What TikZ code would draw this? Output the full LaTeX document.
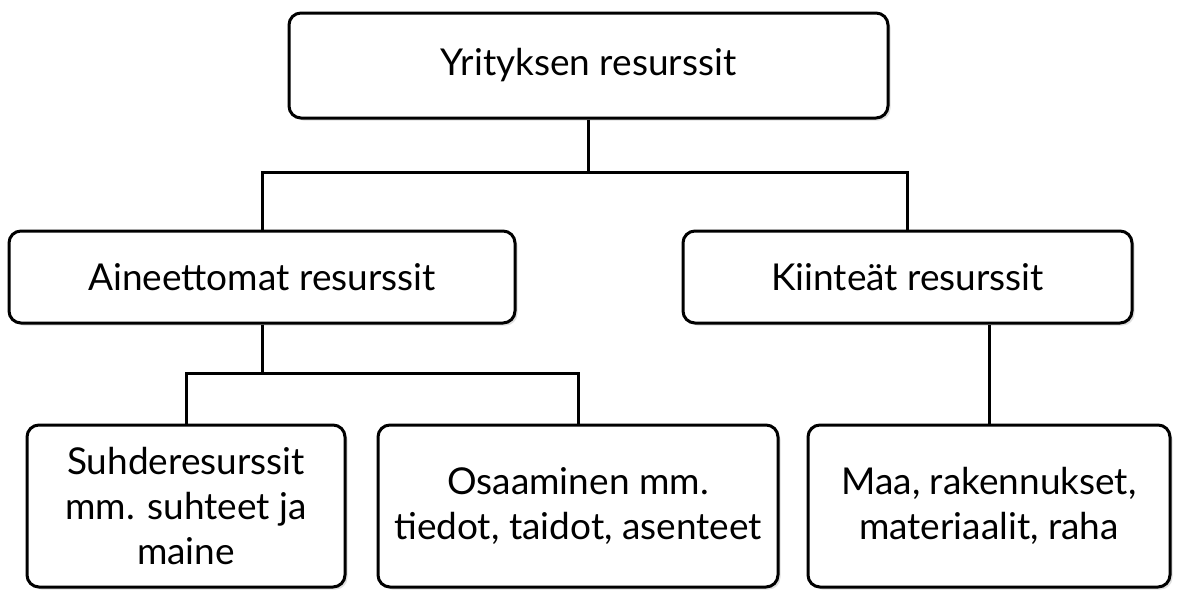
\documentclass[tikz,border=0pt]{standalone}
\usepackage{fontspec}
\setmainfont{Lato}
\usetikzlibrary{shadows}
\tikzset{
  box/.style={draw=black, line width=3pt, rounded corners=12pt, fill=white,
    align=center, inner sep=0pt,
    font=\fontsize{37}{45}\selectfont,
    drop shadow={opacity=0.25, shadow xshift=2.5pt, shadow yshift=-2.5pt}},
  link/.style={draw=black, line width=3pt}
}
\begin{document}
\begin{tikzpicture}[x=1pt, y=-1pt]
\useasboundingbox (0,0) rectangle (1177,590);

% top level
\node[box, minimum width=599pt, minimum height=105pt] (top) at (588.5,65.5) {Yrityksen resurssit};

% second level
\node[box, minimum width=506pt, minimum height=92pt] (aine) at (262,277) {Aineettomat resurssit};
\node[box, minimum width=449pt, minimum height=92pt] (kiint) at (907.5,277) {Kiinteät resurssit};

% third level
\node[box, minimum width=318pt, minimum height=162pt] (suhd) at (186,506) {Suhderesurssit\\mm. suhteet ja\\maine};
\node[box, minimum width=400pt, minimum height=162pt] (osaa) at (578,506) {Osaaminen mm.\\tiedot, taidot, asenteet};
\node[box, minimum width=362pt, minimum height=162pt] (maa) at (989,506) {Maa, rakennukset,\\materiaalit, raha};

% junction points of the tree
\coordinate (j1) at (588.5,172);
\coordinate (j2) at (262,373);

% connectors
\draw[link] (top.south) -- (j1);
\draw[link] (aine.north) |- (j1) -| (kiint.north);
\draw[link] (aine.south) -- (j2);
\draw[link] (suhd.north) |- (j2) -| (osaa.north);
\draw[link] (maa.north) -- (maa.north |- kiint.south);
\end{tikzpicture}
\end{document}
